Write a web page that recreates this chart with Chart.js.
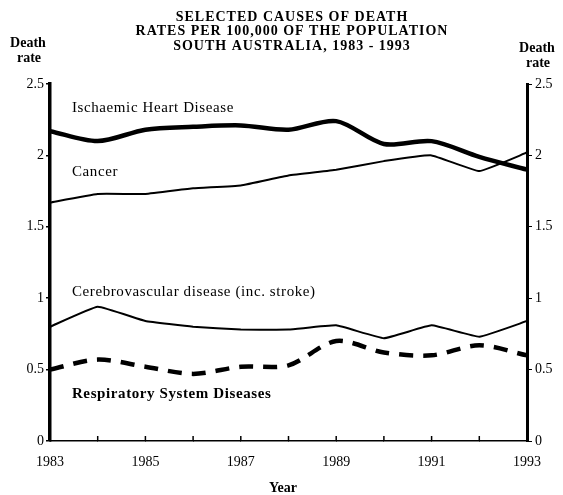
<html>
<head>
  <title>Selected causes of death</title>
  <script src="https://cdn.jsdelivr.net/npm/chart.js@4/dist/chart.umd.min.js"></script>
  <style>
    body { margin: 0; background: #fff; }
    #wrap { width: 563px; height: 495px; }
  </style>
</head>
<body>
  <div id="wrap"><canvas id="chart" width="563" height="495"></canvas></div>

  <script>
    // data
    var years = [1983, 1984, 1985, 1986, 1987, 1988, 1989, 1990, 1991, 1992, 1993];
    var ischaemic = [2.17, 2.10, 2.18, 2.20, 2.21, 2.18, 2.24, 2.08, 2.10, 1.99, 1.90];
    var cancer = [1.67, 1.73, 1.73, 1.77, 1.79, 1.86, 1.90, 1.96, 2.00, 1.89, 2.02];
    var cerebro = [0.80, 0.94, 0.84, 0.80, 0.78, 0.78, 0.81, 0.72, 0.81, 0.73, 0.84];
    var respiratory = [0.50, 0.57, 0.52, 0.47, 0.52, 0.53, 0.70, 0.62, 0.60, 0.67, 0.60];

    var titleLines = ['SELECTED CAUSES OF DEATH', 'RATES PER 100,000 OF THE POPULATION', 'SOUTH AUSTRALIA, 1983 - 1993'];
    var seriesLabels = ['Ischaemic Heart Disease', 'Cancer', 'Cerebrovascular disease (inc. stroke)', 'Respiratory System Diseases'];
    var labelAt = [2.33, 1.88, 1.04, 0.33];

    function pts(vals) {
      var out = [];
      for (var i = 0; i < years.length; i++) out.push({x: years[i], y: vals[i]});
      return out;
    }

    var serif = "'Liberation Serif', 'DejaVu Serif', serif";

    var textPlugin = {
      id: 'texts',
      afterDraw: function(chart) {
        var ctx = chart.ctx;
        var xs = chart.scales.x, ys = chart.scales.y;
        ctx.save();
        ctx.fillStyle = '#000';
        ctx.textBaseline = 'middle';

        // title
        ctx.textAlign = 'center';
        ctx.font = 'bold 14px ' + serif;
        ctx.letterSpacing = '1px';
        for (var i = 0; i < titleLines.length; i++) {
          ctx.fillText(titleLines[i], 292, 17 + i * 14.5);
        }
        ctx.letterSpacing = '0px';

        // axis titles
        ctx.font = 'bold 14px ' + serif;
        ctx.fillText('Death', 28, 43);
        ctx.fillText('rate', 29, 58);
        ctx.fillText('Death', 537, 48);
        ctx.fillText('rate', 538, 63);
        ctx.fillText('Year', 283, 488);

        // series labels
        ctx.textAlign = 'left';
        ctx.letterSpacing = '0.6px';
        for (var j = 0; j < seriesLabels.length; j++) {
          ctx.font = (j == 3 ? 'bold ' : '') + '15px ' + serif;
          ctx.fillText(seriesLabels[j], xs.getPixelForValue(1983.46), ys.getPixelForValue(labelAt[j]));
        }
        ctx.letterSpacing = '0px';

        // year ticks pointing up into the plot
        ctx.strokeStyle = '#000';
        ctx.lineWidth = 1.5;
        for (var k = 0; k < years.length; k++) {
          var px = xs.getPixelForValue(years[k]);
          ctx.beginPath();
          ctx.moveTo(px, ys.bottom);
          ctx.lineTo(px, ys.bottom - 5);
          ctx.stroke();
        }
        ctx.restore();
      }
    };

    var tickFont = { family: serif, size: 14 };

    new Chart(document.getElementById('chart'), {
      type: 'line',
      data: {
        datasets: [
          { data: pts(ischaemic), borderColor: '#000', borderWidth: 4.5, tension: 0.3 },
          { data: pts(cancer), borderColor: '#000', borderWidth: 2, tension: 0.1 },
          { data: pts(cerebro), borderColor: '#000', borderWidth: 2, tension: 0.1 },
          { data: pts(respiratory), borderColor: '#000', borderWidth: 4.5, borderDash: [14, 10], tension: 0.3 }
        ]
      },
      options: {
        responsive: false,
        animation: false,
        layout: { padding: { top: 84 } },
        elements: { point: { radius: 0 } },
        plugins: { legend: { display: false }, tooltip: { enabled: false } },
        scales: {
          x: {
            type: 'linear', min: 1983, max: 1993,
            ticks: {
              stepSize: 1, autoSkip: false, maxRotation: 0, color: '#000', font: tickFont, padding: 13,
              callback: function(v) { return (v - 1983) % 2 == 0 ? String(v) : ''; }
            },
            grid: { drawOnChartArea: false, tickLength: 0, color: '#000' },
            border: { color: '#000', width: 1.5 },
            afterFit: function(s) { s.height = 54; }
          },
          y: {
            position: 'left', min: 0, max: 2.5,
            ticks: { stepSize: 0.5, color: '#000', font: tickFont, padding: 2, callback: function(v) { return String(v); } },
            grid: { drawOnChartArea: false, tickLength: 4, color: '#000', lineWidth: 1.5 },
            border: { color: '#000', width: 3.5 },
            afterFit: function(s) { s.width = 50; }
          },
          y2: {
            position: 'right', min: 0, max: 2.5,
            ticks: { stepSize: 0.5, color: '#000', font: tickFont, padding: 3, callback: function(v) { return String(v); } },
            grid: { drawOnChartArea: false, tickLength: 5, color: '#000', lineWidth: 1 },
            border: { color: '#000', width: 3 },
            afterFit: function(s) { s.width = 36; }
          }
        }
      },
      plugins: [textPlugin]
    });
  </script>
</body>
</html>
